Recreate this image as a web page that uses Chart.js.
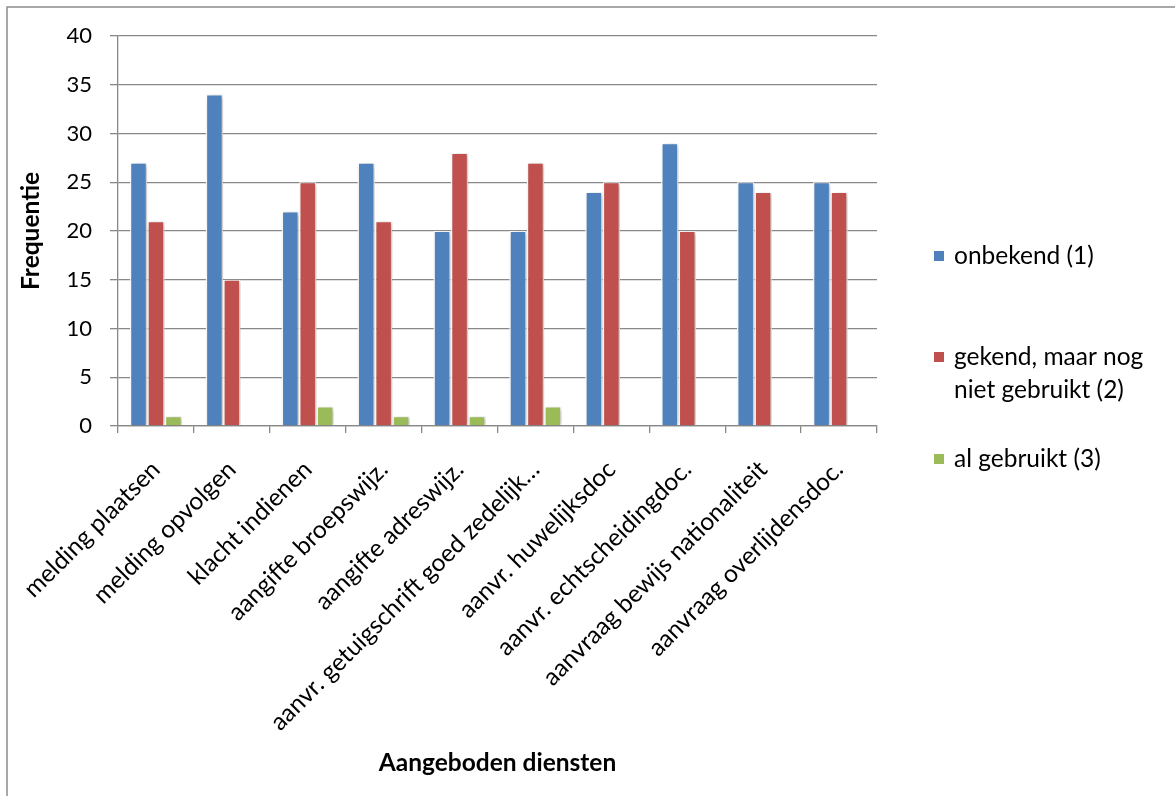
<!DOCTYPE html>
<html>
<head>
<meta charset="utf-8">
<script src="https://cdn.jsdelivr.net/npm/chart.js@4/dist/chart.umd.min.js"></script>
<style>
  html, body { margin: 0; padding: 0; background: #fff; }
  #wrap { width: 1175px; height: 796px; position: relative; }
</style>
</head>
<body>
<div id="wrap"><canvas id="c"></canvas></div>
<script>
const categories = [
  'melding plaatsen',
  'melding opvolgen',
  'klacht indienen',
  'aangifte broepswijz.',
  'aangifte adreswijz.',
  'aanvr. getuigschrift goed zedelijk…',
  'aanvr. huwelijksdoc',
  'aanvr. echtscheidingdoc.',
  'aanvraag bewijs nationaliteit',
  'aanvraag overlijdensdoc.'
];
const seriesNames = ['onbekend (1)', 'gekend, maar nog niet gebruikt (2)', 'al gebruikt (3)'];
const onbekend = [27, 34, 22, 27, 20, 20, 24, 29, 25, 25];
const gekend = [21, 15, 25, 21, 28, 27, 25, 20, 24, 24];
const gebruikt = [1, 0, 2, 1, 1, 2, 0, 0, 0, 0];
const yTicks = [0, 5, 10, 15, 20, 25, 30, 35, 40];
const xTitle = 'Aangeboden diensten';
const yTitle = 'Frequentie';

const colors = ['#4F81BD', '#C0504D', '#9BBB59'];
const FONT = 'Lato';

const frame = {
  id: 'frame',
  beforeDraw(chart) {
    const ctx = chart.ctx;
    ctx.save();
    ctx.fillStyle = '#fff';
    ctx.fillRect(0, 0, chart.width, chart.height);
    ctx.strokeStyle = '#8c8c8c';
    ctx.lineWidth = 1.5;
    ctx.beginPath();
    ctx.moveTo(7, chart.height);
    ctx.lineTo(7, 7);
    ctx.lineTo(chart.width, 7);
    ctx.stroke();
    ctx.restore();
  }
};

const shadow = {
  id: 'shadow',
  beforeDatasetsDraw(chart) {
    const ctx = chart.ctx;
    ctx.save();
    ctx.shadowColor = 'rgba(0,0,0,0.28)';
    ctx.shadowBlur = 5;
    ctx.shadowOffsetX = 2;
    ctx.shadowOffsetY = 1;
  },
  afterDatasetsDraw(chart) {
    chart.ctx.restore();
  }
};

const legendPlugin = {
  id: 'customLegend',
  afterDraw(chart) {
    const ctx = chart.ctx;
    const x0 = 934, box = 10, textX = 954, maxW = 205, lineH = 33;
    const rowY = [256, 357, 459];
    ctx.save();
    ctx.font = '24.5px ' + FONT;
    ctx.textBaseline = 'middle';
    ctx.textAlign = 'left';
    chart.data.datasets.forEach((ds, i) => {
      const words = ds.label.split(' ');
      const lines = [];
      let cur = '';
      words.forEach(w => {
        const t = cur ? cur + ' ' + w : w;
        if (ctx.measureText(t).width > maxW && cur) { lines.push(cur); cur = w; }
        else cur = t;
      });
      if (cur) lines.push(cur);
      const y = rowY[i];
      ctx.fillStyle = ds.backgroundColor;
      ctx.fillRect(x0, y - box / 2, box, box);
      ctx.fillStyle = '#000';
      lines.forEach((ln, k) => ctx.fillText(ln, textX, y + k * lineH));
    });
    ctx.restore();
  }
};

new Chart(document.getElementById('c'), {
  type: 'bar',
  data: {
    labels: categories,
    datasets: [
      { label: seriesNames[0], data: onbekend, backgroundColor: colors[0] },
      { label: seriesNames[1], data: gekend, backgroundColor: colors[1] },
      { label: seriesNames[2], data: gebruikt, backgroundColor: colors[2] }
    ].map(d => Object.assign(d, {
      borderColor: '#ffffff',
      borderWidth: { left: 1.5, right: 1.5, top: 1, bottom: 0 },
      barPercentage: 1.0,
      categoryPercentage: 0.69
    }))
  },
  options: {
    responsive: true,
    maintainAspectRatio: false,
    animation: false,
    devicePixelRatio: 1,
    layout: { padding: { left: 0, top: 36, right: 298, bottom: 0 } },
    plugins: {
      legend: { display: false },
      tooltip: { enabled: false }
    },
    scales: {
      x: {
        grid: {
          display: true,
          drawOnChartArea: false,
          drawTicks: true,
          tickLength: 7,
          color: '#888888',
          lineWidth: 1.3,
          offset: true
        },
        border: { display: true, color: '#888888', width: 1.3 },
        ticks: {
          autoSkip: false,
          maxRotation: 45,
          minRotation: 45,
          color: '#000',
          padding: 22,
          labelOffset: 0,
          font: { family: FONT, size: 24.5 }
        },
        title: {
          display: true,
          text: xTitle,
          color: '#000',
          font: { family: FONT, size: 24.5, weight: 'bold' },
          padding: { top: 0, bottom: 18 }
        },
        afterFit(scale) { scale.height = 370; }
      },
      y: {
        min: 0,
        max: 40,
        afterBuildTicks(scale) { scale.ticks = yTicks.map(v => ({ value: v })); },
        grid: {
          color: '#888888',
          lineWidth: 1.3,
          drawTicks: true,
          tickLength: 8
        },
        border: { display: true, color: '#888888', width: 1.3 },
        ticks: {
          color: '#000',
          padding: 18,
          font: { family: FONT, size: 22 }
        },
        title: {
          display: true,
          text: yTitle,
          color: '#000',
          font: { family: FONT, size: 24.5, weight: 'bold' },
          padding: { top: 16, bottom: 0 }
        },
        afterFit(scale) { scale.width = 118; }
      }
    }
  },
  plugins: [frame, shadow, legendPlugin]
});
</script>
</body>
</html>
